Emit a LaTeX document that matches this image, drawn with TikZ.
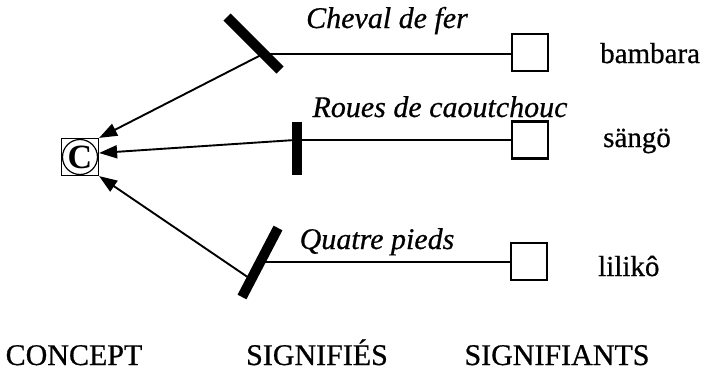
\documentclass[tikz,border=0pt]{standalone}
\usepackage{fontspec}
\setmainfont{Liberation Serif}[UprightFeatures={FakeBold=0.6},ItalicFeatures={FakeBold=0.6}]
\usetikzlibrary{arrows.meta}
\def\topbar{(227,17) -- (280,70)}
\def\midbar{(297,122) -- (297,175)}
\def\lowbar{(278,228) -- (242,297)}

\tikzset{
  signe/.style={draw,line width=2.6pt,minimum width=36pt,minimum height=37pt,inner sep=0pt},
  lien/.style={line width=1.9pt},
  fleche/.style={lien,-{Triangle[length=18pt,width=13pt]}},
  barre/.style={line width=10pt},
  txt/.style={inner sep=0pt},
  langue/.style={txt,anchor=base west,font=\fontsize{29}{34}\selectfont}
}

\begin{document}
\begin{tikzpicture}[x=1pt,y=-1pt,font=\fontsize{30}{34}\selectfont]
   \useasboundingbox (0,0) rectangle (705,370);
   % concept
   \node[draw,line width=1.2pt,minimum size=37pt,inner sep=0pt] (C) at (80,157) {};
   \node[draw,circle,line width=1.2pt,minimum size=35pt,inner sep=0pt,font=\fontsize{34}{34}\selectfont\bfseries] (Cc) at (C) {C};
   % signifiants
   \node[signe] (sa1) at (530,52.5) {};
   \node[signe] (sa2) at (530,140) {};
   \node[signe] (sa3) at (529,261.5) {};
   % signifies
   \draw[barre] \topbar;
   \draw[barre] \midbar;
   \draw[barre] \lowbar;
   \coordinate (j1) at (263,54);
   \coordinate (j2) at (295,140);
   \coordinate (h3) at (260,262);
   \coordinate (j3) at (252,280);
   \draw[lien] (j1) -- (j1 -| sa1.west);
   \draw[lien] (j2) -- (j2 -| sa2.west);
   \draw[lien] (h3) -- (h3 -| sa3.west);
   \draw[fleche] (j1) -- (C.north east);
   \draw[fleche] (j2) -- ([yshift=4pt]C.east);
   \draw[fleche] (j3) -- (C.south east);
   % textes
   \node[txt,anchor=base] (t1) at (387,28) {\itshape Cheval de fer};
   \node[txt,anchor=base] (t2) at (440,117) {\itshape Roues de caoutchouc};
   \node[txt,anchor=base] (t3) at (377,249) {\itshape Quatre pieds};
   \node[langue] (l1) at (600,63) {bambara};
   \node[langue] (l2) at (603,147) {sängö};
   \node[langue] (l3) at (598,276) {lilikô};
   \node[txt,anchor=base] (n1) at (74,365) {CONCEPT};
   \node[txt,anchor=base] (n2) at (317,365) {SIGNIFIÉS};
   \node[txt,anchor=base] (n3) at (557,365) {SIGNIFIANTS};
\end{tikzpicture}
\end{document}
